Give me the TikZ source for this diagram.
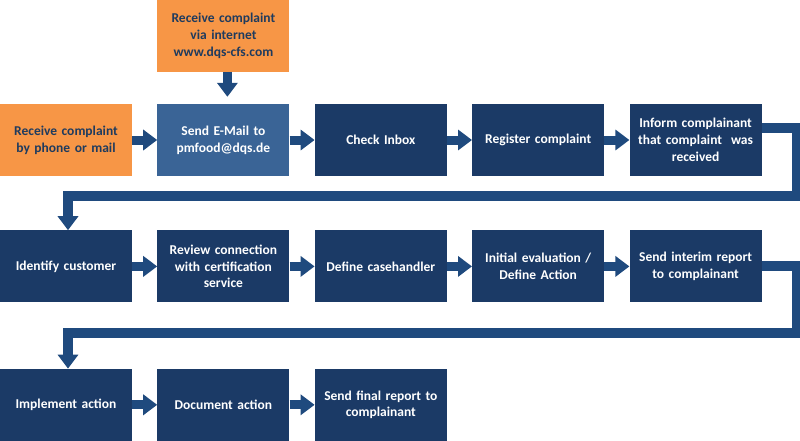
\documentclass[tikz,border=0pt]{standalone}
\usepackage{fontspec}
\setmainfont{Carlito}
\usetikzlibrary{arrows.meta,positioning}
\definecolor{Navy}{HTML}{1B3A66}
\definecolor{SteelBlue}{HTML}{3A6496}
\definecolor{Tangerine}{HTML}{F79646}
\definecolor{InkBlue}{HTML}{1F3B5E}
\definecolor{Flow}{HTML}{1F4A7E}

\begin{document}
\begin{tikzpicture}[
  stepbox/.style={
    fill=Navy,
    text=white,
    minimum width=132pt,
    minimum height=72pt,
    text width=126pt,
    inner xsep=3pt,
    align=center,
    font=\fontsize{13.5}{16.8}\selectfont\bfseries
  },
  startbox/.style={stepbox,fill=Tangerine,text=InkBlue},
  mailbox/.style={stepbox,fill=SteelBlue},
  arrow/.style={-{Triangle[length=14pt,width=20pt]},line width=9pt,color=Flow},
  loopback/.style={-{Triangle[length=14pt,width=20pt]},line width=10pt,color=Flow}
]
\useasboundingbox (0,0) rectangle (800pt,-440pt);
% first row
\node[startbox] (phone) at (66pt,-140pt) {Receive complaint\\by phone or mail};
\node[mailbox,right=25pt of phone] (email) {Send E-Mail to\\pmfood@dqs.de};
\node[startbox,above=32pt of email] (web) {Receive complaint\\via internet\\www.dqs-cfs.com};
\node[stepbox,right=25pt of email] (inbox) {Check Inbox};
\node[stepbox,right=25pt of inbox] (register) {Register complaint};
\node[stepbox,right=25pt of register] (inform) {Inform complainant\\that complaint\ \ was\\received};
% second row
\node[stepbox,below=54pt of phone] (identify) {Identify customer};
\node[stepbox,right=25pt of identify] (review) {Review connection\\with certification\\service};
\node[stepbox,right=25pt of review] (casehandler) {Define casehandler};
\node[stepbox,right=25pt of casehandler] (evaluate) {Initial evaluation /\\Define Action};
\node[stepbox,right=25pt of evaluate] (interim) {Send interim report\\to complainant};
% third row
\node[stepbox,below=66pt of identify] (implement) {Implement action};
\node[stepbox,right=25pt of implement] (document) {Document action};
\node[stepbox,right=25pt of document] (final) {Send final report to\\complainant};

\draw[arrow,shorten >=7pt] ([xshift=4pt]web.south) -- ([xshift=4pt]email.north);
\draw[arrow] (phone) -- (email);
\draw[arrow] (email) -- (inbox);
\draw[arrow] (inbox) -- (register);
\draw[arrow] (register) -- (inform);
\draw[loopback] ([yshift=12pt]inform.east) -- ++(35pt,0) -- ++(0,-68pt)
  -| ([xshift=2pt]identify.north);
\draw[arrow] (identify) -- (review);
\draw[arrow] (review) -- (casehandler);
\draw[arrow] (casehandler) -- (evaluate);
\draw[arrow] (evaluate) -- (interim);
\draw[loopback] (interim.east) -- ++(35pt,0) -- ++(0,-67pt)
  -| ([xshift=2pt]implement.north);
\draw[arrow] (implement) -- (document);
\draw[arrow] (document) -- (final);
\end{tikzpicture}
\end{document}
